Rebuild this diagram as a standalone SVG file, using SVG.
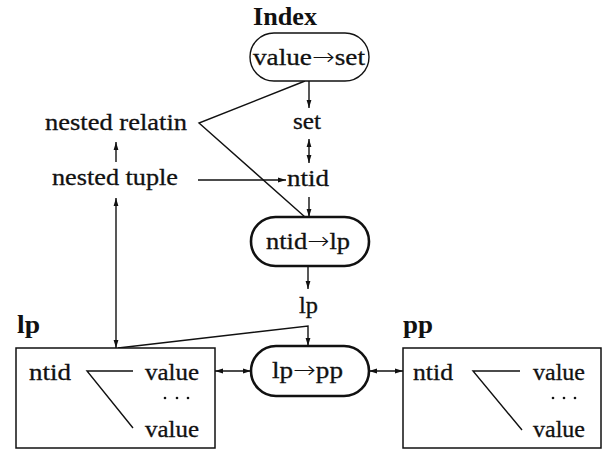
<svg xmlns="http://www.w3.org/2000/svg" width="604" height="452" viewBox="0 0 604 452">
  <defs>
    <style>
      .t { font-family: "Liberation Serif", "Times New Roman", serif; font-size: 24px; fill: #111; stroke: #111; stroke-width: 0.3; }
      .b { font-family: "Liberation Serif", "Times New Roman", serif; font-size: 25px; font-weight: bold; fill: #111; }
      .ar { font-family: "DejaVu Sans", sans-serif; font-weight: 200; stroke: none; }
      .pill { fill: #fff; stroke: #111; stroke-width: 1.4; }
      .pill-bold { fill: #fff; stroke: #111; stroke-width: 2.6; }
      .box { fill: #fff; stroke: #111; stroke-width: 1.5; }
      .ln { fill: none; stroke: #111; stroke-width: 1.4; }
      .arr { fill: none; stroke: #111; stroke-width: 1.4; marker-end: url(#head); }
      .arr2 { fill: none; stroke: #111; stroke-width: 1.4; marker-start: url(#head); marker-end: url(#head); }
      .dot { fill: #111; }
    </style>
    <marker id="head" viewBox="0 0 8 6" refX="8" refY="3" markerWidth="8" markerHeight="6" markerUnits="userSpaceOnUse" orient="auto-start-reverse">
      <path d="M0,0.6 L8,3 L0,5.4 Z" fill="#111"/>
    </marker>
  </defs>

  <rect width="604" height="452" fill="#fff"/>

  <!-- connectors -->
  <g id="connectors">
    <line class="arr" x1="309" y1="81" x2="309" y2="108"/>
    <polyline class="ln" points="305,81 199,123 305,217"/>
    <line class="arr2" x1="309" y1="139" x2="309" y2="163"/>
    <line class="arr" x1="198" y1="180" x2="286" y2="180"/>
    <line class="arr" x1="309" y1="197" x2="309" y2="217"/>
    <line class="arr" x1="116" y1="162" x2="116" y2="142"/>
    <line class="arr2" x1="116" y1="198" x2="116" y2="348"/>
    <line class="arr" x1="308" y1="266" x2="308" y2="289"/>
    <polyline class="arr" points="118,348 308,326 308,346"/>
    <line class="arr2" x1="215" y1="371" x2="251" y2="371"/>
    <line class="arr2" x1="369" y1="371" x2="403" y2="371"/>
  </g>

  <!-- index node: value to set -->
  <g id="index">
    <text class="b" x="253" y="25" textLength="64" lengthAdjust="spacingAndGlyphs">Index</text>
    <rect class="pill" x="250" y="33" width="119" height="48" rx="24" ry="24"/>
    <text class="t" x="253" y="65" textLength="112" lengthAdjust="spacingAndGlyphs">value<tspan class="ar">→</tspan>set</text>
  </g>

  <g id="set">
    <text class="t" x="293" y="129" textLength="28" lengthAdjust="spacingAndGlyphs">set</text>
  </g>

  <g id="nested-relation">
    <text class="t" x="45" y="130" textLength="142" lengthAdjust="spacingAndGlyphs">nested relatin</text>
  </g>

  <g id="nested-tuple">
    <text class="t" x="52" y="185" textLength="126" lengthAdjust="spacingAndGlyphs">nested tuple</text>
  </g>

  <g id="ntid">
    <text class="t" x="287" y="186" textLength="42" lengthAdjust="spacingAndGlyphs">ntid</text>
  </g>

  <!-- ntid to lp mapping -->
  <g id="ntid-lp">
    <rect class="pill-bold" x="251" y="217" width="118" height="49" rx="24.5" ry="24.5"/>
    <text class="t" x="266" y="249" textLength="84" lengthAdjust="spacingAndGlyphs">ntid<tspan class="ar">→</tspan>lp</text>
  </g>

  <g id="lp">
    <text class="t" x="299" y="313" textLength="19" lengthAdjust="spacingAndGlyphs">lp</text>
  </g>

  <!-- lp to pp mapping -->
  <g id="lp-pp">
    <rect class="pill-bold" x="251" y="346" width="118" height="50" rx="25" ry="25"/>
    <text class="t" x="272" y="378" textLength="71" lengthAdjust="spacingAndGlyphs">lp<tspan class="ar">→</tspan>pp</text>
  </g>

  <!-- lp page -->
  <g id="lp-page">
    <text class="b" x="17" y="333" textLength="23" lengthAdjust="spacingAndGlyphs">lp</text>
    <rect class="box" x="16" y="348" width="199" height="100"/>
    <text class="t" x="29" y="380" textLength="42" lengthAdjust="spacingAndGlyphs">ntid</text>
    <polyline class="ln" points="133,371 87,371 133,428"/>
    <text class="t" x="145" y="380" textLength="54" lengthAdjust="spacingAndGlyphs">value</text>
    <circle class="dot" cx="165" cy="398" r="1.3"/>
    <circle class="dot" cx="177" cy="398" r="1.3"/>
    <circle class="dot" cx="188" cy="398" r="1.3"/>
    <text class="t" x="145" y="437" textLength="54" lengthAdjust="spacingAndGlyphs">value</text>
  </g>

  <!-- pp page -->
  <g id="pp-page">
    <text class="b" x="403" y="333" textLength="30" lengthAdjust="spacingAndGlyphs">pp</text>
    <rect class="box" x="403" y="348" width="198" height="100"/>
    <text class="t" x="413" y="380" textLength="40" lengthAdjust="spacingAndGlyphs">ntid</text>
    <polyline class="ln" points="520,371 473,371 522,430"/>
    <text class="t" x="533" y="380" textLength="52" lengthAdjust="spacingAndGlyphs">value</text>
    <circle class="dot" cx="553" cy="398" r="1.3"/>
    <circle class="dot" cx="564" cy="398" r="1.3"/>
    <circle class="dot" cx="575" cy="398" r="1.3"/>
    <text class="t" x="533" y="437" textLength="52" lengthAdjust="spacingAndGlyphs">value</text>
  </g>
</svg>
